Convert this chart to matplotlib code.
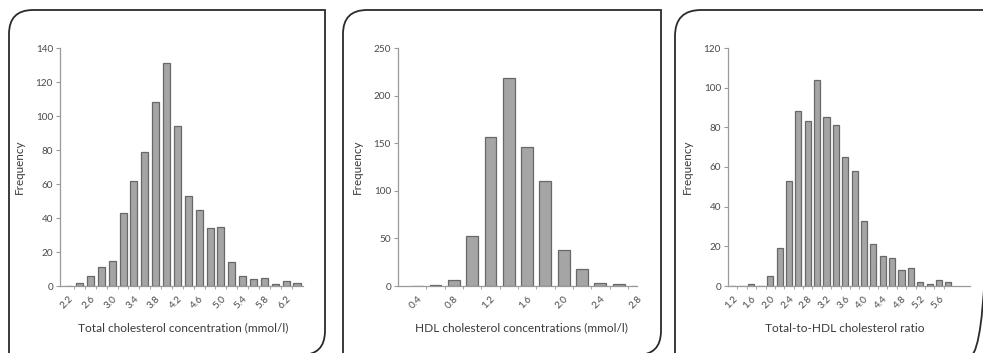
import matplotlib
matplotlib.use("Agg")
import matplotlib.pyplot as plt
from matplotlib.path import Path
from matplotlib.patches import PathPatch

# ---- data ----
total_bins = ["2.2", "2.4", "2.6", "2.8", "3.0", "3.2", "3.4", "3.6", "3.8", "4.0", "4.2",
              "4.4", "4.6", "4.8", "5.0", "5.2", "5.4", "5.6", "5.8", "6.0", "6.2", "6.4"]
total_freq = [0, 2, 6, 11, 15, 43, 62, 79, 108, 131, 94, 53, 45, 34, 35, 14, 6, 4, 5, 1, 3, 2]

hdl_bins = ["0.4", "0.6", "0.8", "1.0", "1.2", "1.4", "1.6", "1.8", "2.0", "2.2", "2.4", "2.6", "2.8"]
hdl_freq = [0, 1, 6, 52, 157, 218, 146, 110, 38, 18, 3, 2, 0]

ratio_bins = ["1.2", "1.4", "1.6", "1.8", "2.0", "2.2", "2.4", "2.6", "2.8", "3.0", "3.2", "3.4",
              "3.6", "3.8", "4.0", "4.2", "4.4", "4.6", "4.8", "5.0", "5.2", "5.4", "5.6", "5.8"]
ratio_freq = [0, 0, 1, 0, 5, 19, 53, 88, 83, 104, 85, 81, 65, 58, 33, 21, 15, 14, 8, 9, 2, 1, 3, 2]

W, H = 983, 353
plt.rcParams['font.family'] = ['Lato', 'DejaVu Sans']


def rounded_box(fig, x0, x1, top, bottom, r):
    # only top-left and bottom-right corners are rounded
    pts = [(x0, bottom), (x0, top + r), (x0, top), (x0 + r, top), (x1, top),
           (x1, bottom - r), (x1, bottom), (x1 - r, bottom)]
    codes = [Path.MOVETO, Path.LINETO, Path.CURVE3, Path.CURVE3, Path.LINETO,
             Path.LINETO, Path.CURVE3, Path.CURVE3]
    verts = [(x / 100, (H - y) / 100) for x, y in pts]
    fig.patches.append(PathPatch(Path(verts, codes), fill=False, edgecolor='#2b2b2b',
                                 lw=1.3, transform=fig.dpi_scale_trans))


def panel(fig, left, right, bins, freq, ymax, ystep, xlim, xlabel, xlab_x):
    ax = fig.add_axes([left / W, (H - 286) / H, (right - left) / W, 238 / H])
    pos = list(range(len(bins)))
    ax.bar(pos, freq, width=0.65, color='#a5a5a5', edgecolor='#686868', lw=0.9)
    ax.set_xlim(*xlim)
    ax.set_ylim(0, ymax)
    ax.set_yticks(range(0, ymax + 1, ystep))
    ax.set_xticks(pos[::2])
    ax.set_xticklabels(bins[::2], rotation=45, ha='right', rotation_mode='anchor')
    ax.set_xticks([p + 0.5 for p in pos[:-1]], minor=True)
    for s in ['top', 'right']:
        ax.spines[s].set_visible(False)
    for s in ['left', 'bottom']:
        ax.spines[s].set_color('#9a9a9a')
        ax.spines[s].set_linewidth(0.9)
    ax.tick_params(axis='y', length=3, color='#9a9a9a', labelsize=7.2, labelcolor='#4a4a4a', pad=2)
    ax.tick_params(axis='x', which='major', length=0, labelsize=7.2, labelcolor='#4a4a4a', pad=6)
    ax.tick_params(axis='x', which='minor', length=2, color='#9a9a9a')
    fig.text(xlab_x / W, (H - 328) / H, xlabel, ha='center', va='center', fontsize=8.6, color='#3a3a3a')
    fig.text((left - 41) / W, (H - 167) / H, "Frequency", rotation=90, ha='center', va='center',
             fontsize=8.4, color='#3a3a3a')
    return ax


def main():
    fig = plt.figure(figsize=(W / 100, H / 100), dpi=100)

    rounded_box(fig, 9, 325, 10, 355, 24)
    rounded_box(fig, 343, 661, 10, 355, 24)
    rounded_box(fig, 675, 994, 10, 358, 26)

    panel(fig, 60, 303, total_bins, total_freq, 140, 20, (-0.8, 21.55),
          "Total cholesterol concentration (mmol/l)", 183)
    panel(fig, 398, 637, hdl_bins, hdl_freq, 250, 50, (-1.05, 12.0),
          "HDL cholesterol concentrations (mmol/l)", 521)
    panel(fig, 728, 970, ratio_bins, ratio_freq, 120, 20, (-0.5, 25.3),
          "Total-to-HDL cholesterol ratio", 845)

    fig.savefig("out.png", dpi=100)


if __name__ == "__main__":
    main()
